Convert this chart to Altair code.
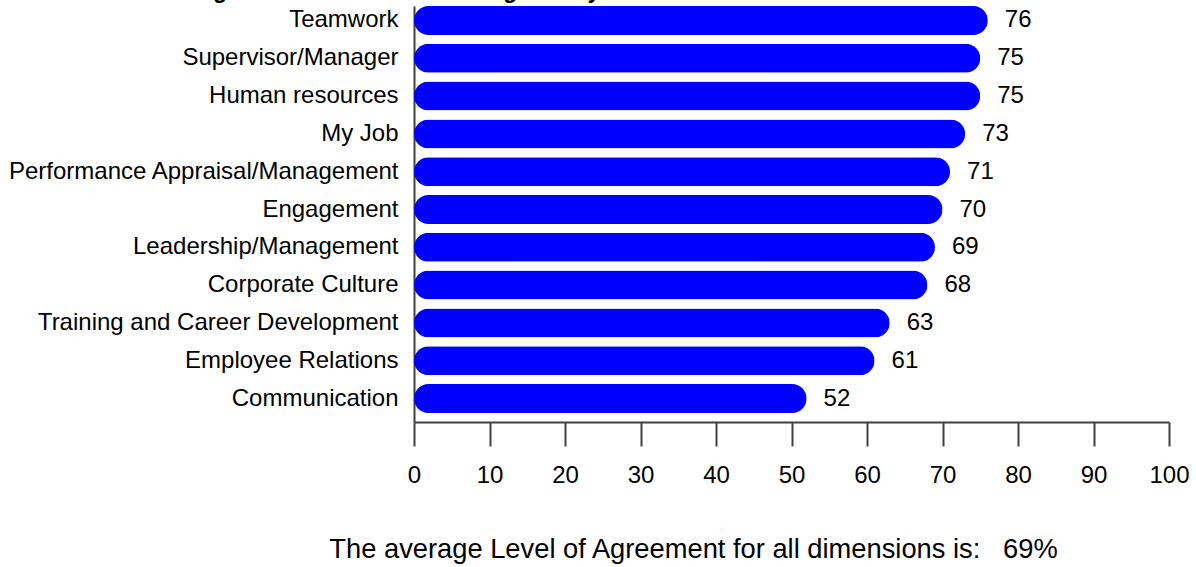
import altair as alt
import pandas as pd

categories = [
    "Teamwork", "Supervisor/Manager", "Human resources", "My Job",
    "Performance Appraisal/Management", "Engagement", "Leadership/Management",
    "Corporate Culture", "Training and Career Development", "Employee Relations",
    "Communication",
]
scores = [76, 75, 75, 73, 71, 70, 69, 68, 63, 61, 52]
x_ticks = [0, 10, 20, 30, 40, 50, 60, 70, 80, 90, 100]
title_text = "Average Scores from the Training Survey"
footer_text = "The average Level of Agreement for all dimensions is:\u00a0\u00a0\u00a069%"

FONT = "Liberation Sans"
AXIS_GREY = "#404040"

df = pd.DataFrame({"category": categories, "score": scores})

y_enc = alt.Y(
    "category:N",
    sort=categories,
    scale=alt.Scale(paddingInner=0.233, paddingOuter=0.119, align=0),
    axis=alt.Axis(
        title=None, ticks=False, labelFontSize=24, labelFont=FONT,
        labelColor="black", labelPadding=16, labelLimit=0,
        domainColor=AXIS_GREY, domainWidth=2, grid=False,
    ),
)
x_enc = alt.X(
    "score:Q",
    scale=alt.Scale(domain=[0, 100], nice=False),
    axis=alt.Axis(
        values=x_ticks, grid=False, tickSize=24, tickWidth=2,
        tickColor=AXIS_GREY, domainColor=AXIS_GREY, domainWidth=2,
        labelFontSize=24, labelFont=FONT, labelColor="black",
        labelPadding=17, labelFlush=False,
        title=footer_text, titleFont=FONT, titleFontSize=27.3,
        titleFontWeight="normal", titleColor="black", titleX=279,
        titleY=135, titleAlign="center", titleBaseline="alphabetic",
    ),
)

bars = alt.Chart(df).mark_bar(cornerRadius=14.5, color="#0000ff").encode(
    x=x_enc, y=y_enc
)
labels = alt.Chart(df).mark_text(
    align="left", baseline="middle", dx=17, fontSize=24, font=FONT,
    color="black",
).encode(x=x_enc, y=y_enc, text=alt.Text("score:Q"))

chart = (
    alt.layer(bars, labels)
    .properties(
        width=755, height=416,
        title=alt.TitleParams(
            text=title_text, fontSize=23, fontWeight="bold", font=FONT,
            color="black", anchor="start", frame="group", dx=-264, offset=0,
            baseline="alphabetic", dy=15,
        ),
        autosize=alt.AutoSizeParams(type="none"),
        padding={"left": 414, "top": 6, "right": 27, "bottom": 145},
    )
    .configure_view(stroke=None)
)

chart.save("out.html", embed_options={"renderer": "svg", "actions": False})
